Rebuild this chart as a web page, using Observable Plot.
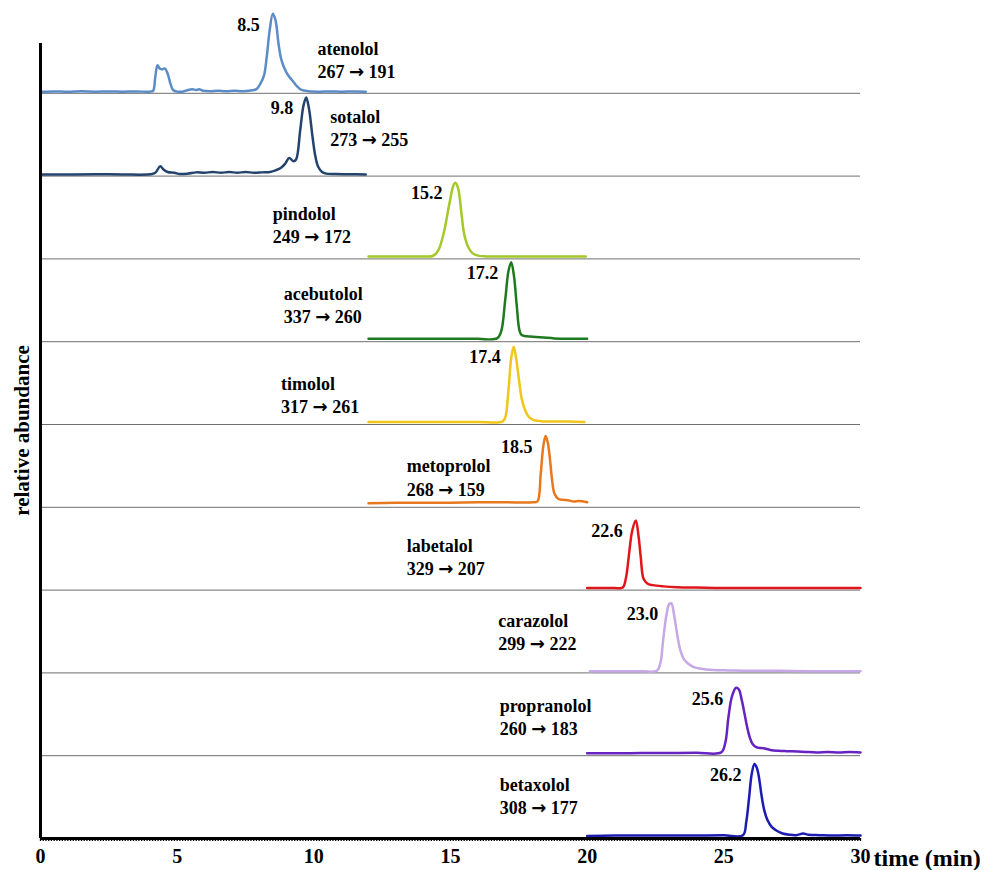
<!DOCTYPE html>
<html>
<head>
<meta charset="utf-8">
<script src="https://cdn.jsdelivr.net/npm/d3@7"></script>
<script src="https://cdn.jsdelivr.net/npm/@observablehq/plot@0.6"></script>
<style>
  html, body { margin: 0; padding: 0; background: #fff; }
  #chart svg { display: block; }
  #chart svg text { font-family: "Liberation Serif", "Times New Roman", serif !important; font-weight: bold !important; fill: #000; }
  #chart svg tspan.arrow { font-family: "DejaVu Sans", sans-serif !important; }
</style>
</head>
<body>
<div id="chart"></div>
<script>
// ---- data ----
const compounds = ["atenolol", "sotalol", "pindolol", "acebutolol", "timolol",
  "metoprolol", "labetalol", "carazolol", "propranolol", "betaxolol"];
const transitions = ["267 → 191", "273 → 255", "249 → 172", "337 → 260", "317 → 261",
  "268 → 159", "329 → 207", "299 → 222", "260 → 183", "308 → 177"];
const retentionLabels = ["8.5", "9.8", "15.2", "17.2", "17.4", "18.5", "22.6", "23.0", "25.6", "26.2"];
const colors = ["#5b8cc6", "#24436d", "#a4c82a", "#1f7a1f", "#f1c51a",
  "#e8781e", "#e0161b", "#c6a8e6", "#6623c2", "#1c1cb0"];
// label anchor (time, % of panel height) for the compound name
const nameT = [10.13, 10.6, 8.5, 8.9, 8.8, 13.4, 13.4, 16.75, 16.8, 16.8];
const nameH = [53, 71, 54, 57, 49, 49, 53, 63, 60, 64];
const xTicks = [0, 5, 10, 15, 20, 25, 30];

// chromatograms: [time (min), relative abundance (% of panel)]
const atenolol = [[0,2],[0.5,2.3],[1,1.8],[1.5,2.4],[2,2],[2.5,2.3],[3,1.9],[3.5,2.2],[4.0,2],[4.12,3],
  [4.2,20],[4.28,34],[4.36,30],[4.45,29],[4.55,30],[4.65,24],[4.75,12],[4.85,4],[5.0,2],[5.2,2],
  [5.4,4],[5.55,5],[5.7,4],[5.8,5],[5.95,3],[6.2,2.5],[6.5,3],[6.8,2.5],[7.1,3],[7.4,2.5],[7.7,3.5],
  [7.9,5],[8.05,12],[8.18,22],[8.28,45],[8.38,75],[8.5,96],[8.6,88],[8.7,62],[8.8,42],[8.9,32],
  [9.0,25],[9.1,20],[9.25,14],[9.4,8],[9.55,4],[9.8,2.5],[10.2,2],[10.6,2.3],[11.0,2],[11.5,2.2],[11.9,2]];
const sotalol = [[0,2],[1,2],[2,2.3],[3,2],[4,2.2],[4.2,4],[4.38,12],[4.5,8],[4.65,5],[4.9,4],[5.1,2.5],
  [5.4,3],[5.7,4.5],[6.0,4],[6.3,5],[6.6,4],[6.9,5],[7.2,4],[7.5,5],[7.8,4],[8.1,4.5],[8.4,5],[8.6,7],
  [8.8,10],[8.95,15],[9.1,22],[9.25,18],[9.35,20],[9.5,55],[9.62,85],[9.72,95],[9.82,82],[9.95,48],
  [10.05,25],[10.15,12],[10.3,5],[10.45,3],[10.8,2.5],[11.3,2.2],[11.9,2]];
const pindolol = [[12,3],[13,3],[14,3],[14.35,3.5],[14.55,10],[14.75,31],[14.95,65],[15.1,88],[15.18,92],
  [15.28,85],[15.4,55],[15.5,30],[15.65,14],[15.8,7],[16.0,4],[16.3,3],[17,3],[18,3],[19,3],[19.95,3]];
const acebutolol = [[12,3.5],[13,3.5],[14,3.5],[15,3.5],[16,3.5],[16.7,4],[16.85,12],[17.0,50],[17.12,85],
  [17.22,96],[17.32,80],[17.42,45],[17.52,14],[17.6,8],[17.8,6.5],[18.0,6],[18.4,5],[18.8,4],[19.2,3.5],[20,3.5]];
const timolol = [[12,3],[13,3],[14,3],[15,3],[16,3],[16.9,3.5],[17.0,8],[17.12,41],[17.22,80],[17.31,94],
  [17.4,80],[17.49,58],[17.6,32],[17.7,20],[17.85,10],[18.0,6],[18.3,4],[18.8,3.5],[19.3,3.5],[19.9,3]];
const metoprolol = [[12,5],[13,5.5],[14,5.5],[15,5.5],[16,6],[17,6],[18,6],[18.18,7],[18.3,40],[18.4,75],
  [18.48,86],[18.56,78],[18.64,58],[18.72,32],[18.8,17],[18.95,10],[19.1,9],[19.3,8.5],[19.5,7],[19.7,7.5],[20,6]];
const labetalol = [[20,2.5],[21,2.5],[21.3,3],[21.42,15],[21.52,40],[21.65,72],[21.78,84],[21.88,65],
  [21.96,40],[22.06,14],[22.2,8],[22.4,6],[22.8,4.5],[23.3,3.5],[24,3],[25,2.5],[26,2.5],[27,2.5],
  [28,2.5],[29,2.5],[30,2.5]];
const carazolol = [[20.1,2],[21,2],[22,2],[22.55,2.5],[22.68,12],[22.78,40],[22.9,70],[23.0,83],[23.08,84],
  [23.18,70],[23.3,45],[23.42,26],[23.55,16],[23.7,11],[23.9,7],[24.15,5],[24.6,3.5],[25.2,3],[26,2.5],
  [27,2.5],[28,2],[29,2],[30,2]];
const propranolol = [[20,3],[21,3],[22,3.2],[23,3.3],[24,3.6],[24.9,4],[25.05,15],[25.17,47],[25.3,72],
  [25.45,82],[25.55,80],[25.65,68],[25.75,52],[25.85,35],[25.95,22],[26.05,14],[26.2,10],[26.45,9],
  [26.7,7],[27,6],[27.3,5.5],[27.7,5],[28,4.5],[28.4,4],[28.8,4.5],[29.2,4],[29.6,4.5],[30,4]];
const betaxolol = [[20,3],[21,3.5],[22,3.5],[23,3.5],[24,3.5],[25,3.8],[25.7,4],[25.82,20],[25.92,48],
  [26.02,78],[26.12,90],[26.2,86],[26.28,75],[26.38,52],[26.48,34],[26.6,22],[26.75,14],[26.95,9],
  [27.15,6],[27.4,4.5],[27.65,4],[27.9,6],[28.1,4.5],[28.5,4],[29,3.5],[29.5,4],[30,3.5]];

const traces = [atenolol, sotalol, pindolol, acebutolol, timolol,
  metoprolol, labetalol, carazolol, propranolol, betaxolol];

// ---- build tables (stacked panels, 100 units per panel) ----
const n = compounds.length;
const offset = i => (n - 1 - i) * 100;
const points = traces.flatMap((tr, i) =>
  tr.map(([t, h]) => ({compound: compounds[i], t, y: offset(i) + h})));
const labels = compounds.map((c, i) => {
  const peak = traces[i].reduce((a, b) => (b[1] > a[1] ? b : a));
  return {
    compound: c, transition: transitions[i], rt: retentionLabels[i],
    nameT: nameT[i], nameY: offset(i) + nameH[i], transY: offset(i) + nameH[i] - 28,
    peakT: peak[0], peakY: offset(i) + peak[1]
  };
});
const separators = d3.range(1, n).map(k => k * 100);

const serif = "Liberation Serif";

const chart = Plot.plot({
  width: 990,
  height: 870,
  marginLeft: 40,
  marginRight: 130,
  marginTop: 10,
  marginBottom: 32,
  style: {background: "#fff"},
  x: {domain: [0, 30], axis: null},
  y: {domain: [0, 1000], axis: null},
  color: {domain: compounds, range: colors},
  marks: [
    Plot.ruleY(separators, {stroke: "#6e6e6e", strokeWidth: 1}),
    Plot.line(points, {x: "t", y: "y", z: "compound", stroke: "compound",
      strokeWidth: 2.5, curve: "catmull-rom"}),
    Plot.text(labels, {x: "nameT", y: "nameY", text: "compound", textAnchor: "start",
      fontSize: 18, fontWeight: "bold", fontFamily: serif}),
    Plot.text(labels, {x: "nameT", y: "transY", text: "transition", textAnchor: "start",
      fontSize: 18, fontWeight: "bold", fontFamily: serif}),
    Plot.text(labels, {x: "peakT", y: "peakY", text: "rt", textAnchor: "end",
      dx: -13, dy: 11, fontSize: 18, fontWeight: "bold", fontFamily: serif}),
    // axes
    Plot.axisX({ticks: d3.range(0, 300.5, 1).map(d => d / 10), tickSize: 3, tickFormat: () => "",
      strokeWidth: 1.3, label: null}),
    Plot.axisX({ticks: xTicks, tickSize: 0, tickPadding: 10, fontSize: 20, fontWeight: "bold",
      fontFamily: serif, label: null}),
    Plot.ruleY([0], {strokeWidth: 3, stroke: "#000"}),
    Plot.ruleX([0], {y1: 0, y2: 960, strokeWidth: 3, stroke: "#000"}),
    Plot.text(["time (min)"], {x: () => 30, y: () => 0, text: d => d, textAnchor: "start",
      dx: 13, dy: 20, fontSize: 24, fontWeight: "bold", fontFamily: serif}),
    Plot.text(["relative abundance"], {frameAnchor: "left", text: d => d, rotate: -90,
      textAnchor: "middle", dx: -18, dy: 6, fontSize: 21, fontWeight: "bold", fontFamily: serif})
  ]
});
document.getElementById("chart").appendChild(chart);

// draw the reaction arrow with a heavier glyph, as in the original
chart.querySelectorAll("text").forEach(t => {
  if (t.childElementCount === 0 && t.textContent.includes("→")) {
    const [a, b] = t.textContent.split("→");
    t.textContent = "";
    const ns = "http://www.w3.org/2000/svg";
    const s1 = document.createElementNS(ns, "tspan"); s1.textContent = a;
    const s2 = document.createElementNS(ns, "tspan"); s2.textContent = "→"; s2.setAttribute("class", "arrow");
    const s3 = document.createElementNS(ns, "tspan"); s3.textContent = b;
    t.append(s1, s2, s3);
  }
});
</script>
</body>
</html>
